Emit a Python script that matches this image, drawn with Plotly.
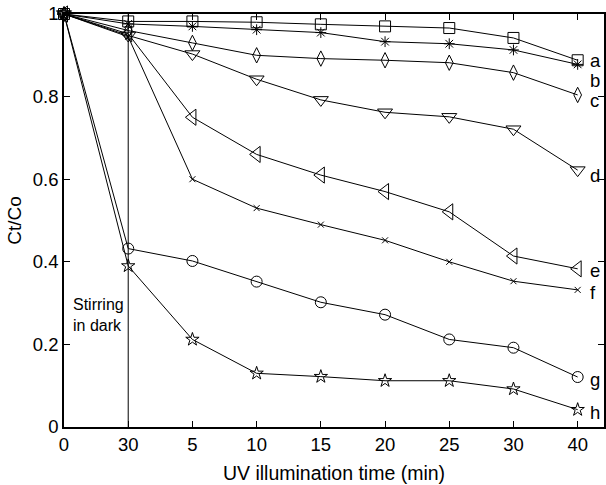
import plotly.graph_objects as go

x_labels = ["0", "30", "5", "10", "15", "20", "25", "30", "40"]
x_idx = list(range(len(x_labels)))

series_names = ["a", "b", "c", "d", "e", "f", "g", "h"]
a = [1.0, 0.982, 0.982, 0.98, 0.975, 0.97, 0.966, 0.942, 0.888]
b = [1.0, 0.976, 0.97, 0.962, 0.955, 0.933, 0.928, 0.913, 0.878]
c = [1.0, 0.96, 0.93, 0.90, 0.892, 0.888, 0.882, 0.858, 0.804]
d = [1.0, 0.948, 0.903, 0.842, 0.792, 0.762, 0.751, 0.721, 0.622]
e = [1.0, 0.952, 0.75, 0.66, 0.61, 0.57, 0.521, 0.414, 0.383]
f = [1.0, 0.945, 0.60, 0.53, 0.49, 0.452, 0.40, 0.353, 0.332]
g = [1.0, 0.432, 0.402, 0.352, 0.302, 0.272, 0.212, 0.192, 0.121]
h = [1.0, 0.39, 0.212, 0.13, 0.122, 0.112, 0.112, 0.092, 0.042]
all_series = [a, b, c, d, e, f, g, h]

symbols = ["square-open", "asterisk-open", "diamond-tall-open", "triangle-down-open",
           "triangle-left-open", "x-thin-open", "circle-open", "star-open"]
sizes = [11, 9, 11, 13, 14, 6, 11, 10]
label_y = [0.888, 0.838, 0.79, 0.61, 0.38, 0.325, 0.115, 0.035]

FONT = "Liberation Sans, Arial, sans-serif"

fig = go.Figure()

# vertical "stirring in dark" divider
fig.add_trace(go.Scatter(x=[1, 1], y=[0, 1], mode="lines",
                         line=dict(color="black", width=1), showlegend=False,
                         hoverinfo="skip"))

for name, ys, sym, sz in zip(series_names, all_series, symbols, sizes):
    fig.add_trace(go.Scatter(
        x=x_idx, y=ys, mode="lines+markers", name=name,
        line=dict(color="black", width=1),
        marker=dict(symbol=sym, size=sz, color="black",
                    line=dict(color="black", width=1)),
        showlegend=False, cliponaxis=False))

for name, ly in zip(series_names, label_y):
    fig.add_annotation(x=8.16, y=ly, xref="x", yref="y", text=name,
                       showarrow=False, xanchor="left", yanchor="middle",
                       font=dict(size=18.5, color="black", family=FONT))

fig.add_annotation(x=0.11, y=0.272, xref="x", yref="y",
                   text="Stirring<br>in dark", showarrow=False,
                   xanchor="left", yanchor="middle", align="left",
                   font=dict(size=16, color="black", family=FONT))

fig.update_layout(
    width=606, height=485,
    margin=dict(l=64, r=0, t=14, b=58),
    paper_bgcolor="white", plot_bgcolor="white",
    font=dict(family=FONT, size=18, color="black"),
    xaxis=dict(range=[0, 8.41], tickmode="array", tickvals=x_idx, ticktext=x_labels,
               ticks="inside", ticklen=6, tickcolor="black",
               showline=True, linecolor="black", linewidth=1.5, mirror="ticks",
               showgrid=False, zeroline=False,
               title=dict(text="UV illumination time (min)", font=dict(size=19.5), standoff=12),
               tickfont=dict(size=18.5)),
    yaxis=dict(range=[0, 1], tickmode="array", tickvals=[0, 0.2, 0.4, 0.6, 0.8, 1],
               ticktext=["0", "0.2", "0.4", "0.6", "0.8", "1"],
               ticks="inside", ticklen=6, tickcolor="black",
               showline=True, linecolor="black", linewidth=1.5, mirror="ticks",
               showgrid=False, zeroline=False,
               title=dict(text="Ct/Co", font=dict(size=19), standoff=6),
               tickfont=dict(size=18.5)),
)

fig.write_html("out.html")
